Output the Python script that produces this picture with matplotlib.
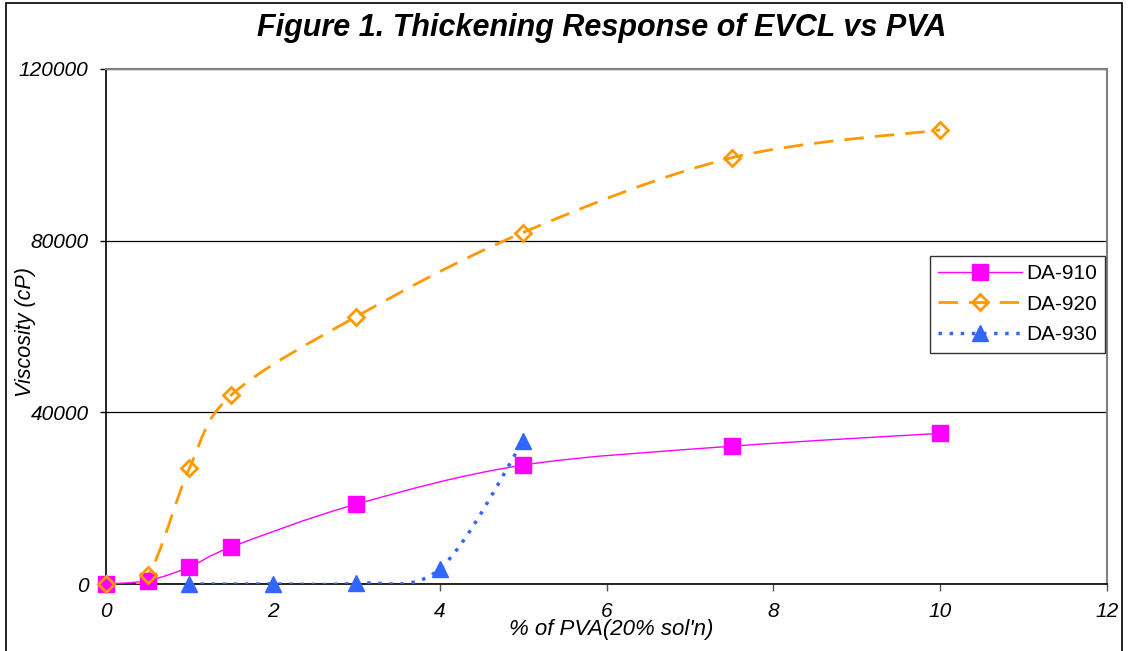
import numpy as np
import matplotlib
matplotlib.use("Agg")
import matplotlib.pyplot as plt
from matplotlib.path import Path
from matplotlib.patches import PathPatch, Rectangle
from matplotlib.lines import Line2D

plt.rcParams['font.family'] = ['Liberation Sans', 'DejaVu Sans']

# data
x_910 = [0, 0.5, 1, 1.5, 3, 5, 7.5, 10]
y_910 = [0, 800, 3950, 8600, 18600, 27700, 32100, 35100]
x_920 = [0, 0.5, 1, 1.5, 3, 5, 7.5, 10]
y_920 = [0, 2100, 27000, 44000, 62300, 81900, 99300, 105800]
x_930 = [1, 2, 3, 4, 5]
y_930 = [0, 0, 200, 3500, 33300]

series_names = ['DA-910', 'DA-920', 'DA-930']
x_ticks = [0, 2, 4, 6, 8, 10, 12]
y_ticks = [0, 40000, 80000, 120000]


def smooth_path(xs, ys):
    # Excel-like smoothed line: cubic bezier through the points
    p = np.column_stack([xs, ys]).astype(float)
    n = len(p)
    verts = [p[0]]
    codes = [Path.MOVETO]
    for i in range(n - 1):
        p0 = p[i - 1] if i > 0 else p[i]
        p1 = p[i]
        p2 = p[i + 1]
        p3 = p[i + 2] if i + 2 < n else p[i + 1]
        c1 = p1 + (p2 - p0) / 6.0
        c2 = p2 - (p3 - p1) / 6.0
        verts += [c1, c2, p2]
        codes += [Path.CURVE4] * 3
    return Path(verts, codes)


fig = plt.figure(figsize=(11.28, 6.51), dpi=100)
ax = fig.add_axes([106 / 1128, 1 - 584 / 651, (1107 - 106) / 1128, (584 - 69) / 651])

styles = [
    dict(color='#FF00FF', lw=1.0, ls='-', marker='s', ms=11, mfc='#FF00FF', mec='#FF00FF', mew=1),
    dict(color='#FF9900', lw=2.0, ls=(0, (7, 4)), marker='D', ms=8, mfc='none', mec='#FF9900', mew=2),
    dict(color='#3366FF', lw=2.5, ls=(0, (1, 2.2)), marker='^', ms=12, mfc='#3366FF', mec='#3366FF', mew=1),
]
data = [(x_910, y_910), (x_920, y_920), (x_930, y_930)]

handles = []
for (xs, ys), st, name in zip(data, styles, series_names):
    patch = PathPatch(smooth_path(xs, ys), facecolor='none', edgecolor=st['color'],
                      lw=st['lw'], linestyle=st['ls'], capstyle='butt', zorder=3)
    ax.add_patch(patch)
    ax.plot(xs, ys, linestyle='none', marker=st['marker'], ms=st['ms'],
            mfc=st['mfc'], mec=st['mec'], mew=st['mew'], zorder=4, clip_on=False)
    handles.append(Line2D([], [], color=st['color'], lw=st['lw'], ls=st['ls'],
                          marker=st['marker'], ms=st['ms'], mfc=st['mfc'],
                          mec=st['mec'], mew=st['mew']))

ax.set_xlim(0, 12)
ax.set_ylim(0, 120000)
ax.set_xticks(x_ticks)
ax.set_yticks(y_ticks)
ax.set_xticklabels([str(t) for t in x_ticks], fontsize=15, style='italic')
ax.set_yticklabels([str(t) for t in y_ticks], fontsize=15, style='italic')
ax.tick_params(axis='x', direction='out', length=5, width=1, pad=8, color='#555555')
ax.tick_params(axis='y', direction='out', length=4.5, width=1, pad=8, color='black')
ax.yaxis.grid(True, color='black', lw=0.9)
ax.set_axisbelow(True)

ax.spines['left'].set_color('black')
ax.spines['bottom'].set_color('black')
ax.spines['top'].set_color('#808080')
ax.spines['right'].set_color('#808080')
for s in ax.spines.values():
    s.set_linewidth(1.5)
ax.spines['left'].set_linewidth(1.2)
ax.spines['bottom'].set_linewidth(1.2)

leg = ax.legend(handles, series_names, loc='upper right', bbox_to_anchor=(0.998, 0.637),
                borderaxespad=0, fontsize=15, frameon=True, fancybox=False,
                handlelength=4.0, numpoints=1, labelspacing=0.55, borderpad=0.4,
                handletextpad=0.2)
leg.get_frame().set_edgecolor('black')
leg.get_frame().set_linewidth(1.0)

fig.text(602 / 1128, 1 - 28 / 651, 'Figure 1. Thickening Response of EVCL vs PVA',
         ha='center', va='center', fontsize=22, fontweight='bold', style='italic')
fig.text(611 / 1128, 1 - 630 / 651, "% of PVA(20% sol'n)", ha='center', va='center',
         fontsize=16, style='italic')
fig.text(25 / 1128, 1 - 332 / 651, 'Viscosity (cP)', ha='center', va='center',
         fontsize=15.5, style='italic', rotation=90)

fig.patches.append(Rectangle((6 / 1128, -0.05), (1122 - 6) / 1128, 1.05 - 3 / 651,
                             transform=fig.transFigure, fill=False, edgecolor='black', lw=1.2))

fig.savefig('out.png', dpi=100)
